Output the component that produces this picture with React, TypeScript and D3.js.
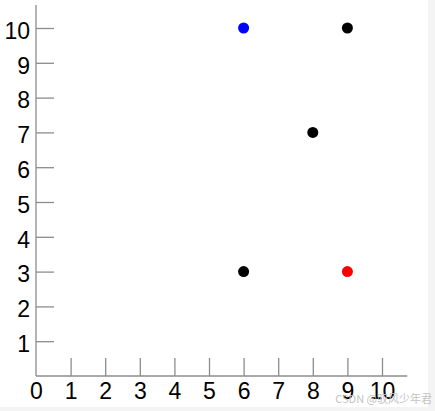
import React, { useRef, useEffect } from 'react';
import * as d3 from 'd3';

const xValues = [6, 9, 8, 6, 9];
const yValues = [10, 10, 7, 3, 3];
const pointColors = ['#0000ff', '#000000', '#000000', '#000000', '#ff0000'];
const xTicks = [0, 1, 2, 3, 4, 5, 6, 7, 8, 9, 10];
const yTicks = [1, 2, 3, 4, 5, 6, 7, 8, 9, 10];

const W = 435;
const H = 411;

const App: React.FC = () => {
  const svgRef = useRef<SVGSVGElement>(null);

  useEffect(() => {
    if (!svgRef.current) return;
    const svg = d3.select(svgRef.current);
    svg.selectAll('*').remove();

    // page background with the light frame at right/bottom
    svg.append('rect').attr('width', W).attr('height', H).attr('fill', '#f4f4f4');
    svg.append('rect').attr('width', 428).attr('height', 407).attr('fill', '#ffffff');

    const x = d3.scaleLinear().domain([0, 10]).range([36, 382]);
    const y = d3.scaleLinear().domain([0, 10]).range([376, 28]);

    const axisColor = '#8c8c8c';
    const font = 'Liberation Sans, Arial, sans-serif';

    // x axis
    const gx = svg
      .append('g')
      .attr('transform', `translate(0, ${y(0)})`)
      .call(d3.axisBottom(x).tickValues(xTicks).tickSizeInner(-18).tickSizeOuter(0).tickPadding(7).tickFormat(d3.format('d')));
    gx.select('.domain').remove();
    gx.selectAll('.tick line')
      .attr('stroke', axisColor)
      .attr('stroke-width', 1.3)
      .filter((d: any) => d === 0)
      .remove();
    gx.selectAll('.tick text')
      .attr('fill', '#000')
      .style('font-family', font)
      .style('font-size', '23px');

    // y axis
    const gy = svg
      .append('g')
      .attr('transform', `translate(${x(0)}, 0)`)
      .call(d3.axisLeft(y).tickValues(yTicks).tickSizeInner(-18).tickSizeOuter(0).tickPadding(6).tickFormat(d3.format('d')));
    gy.select('.domain').remove();
    gy.selectAll('.tick line').attr('stroke', axisColor).attr('stroke-width', 1.3);
    gy.selectAll('.tick text')
      .attr('fill', '#000')
      .attr('dy', '0.45em')
      .style('font-family', font)
      .style('font-size', '23px');

    // axis lines
    svg
      .append('line')
      .attr('x1', x(0))
      .attr('x2', x(10.73))
      .attr('y1', y(0))
      .attr('y2', y(0))
      .attr('stroke', axisColor)
      .attr('stroke-width', 1.3);
    svg
      .append('line')
      .attr('x1', x(0))
      .attr('x2', x(0))
      .attr('y1', y(0))
      .attr('y2', y(10.66))
      .attr('stroke', axisColor)
      .attr('stroke-width', 1.3);

    // points
    svg
      .selectAll('circle.pt')
      .data(xValues.map((v, i) => ({ x: v, y: yValues[i], c: pointColors[i] })))
      .enter()
      .append('circle')
      .attr('class', 'pt')
      .attr('cx', (d) => x(d.x))
      .attr('cy', (d) => y(d.y))
      .attr('r', 5.5)
      .attr('fill', (d) => d.c);

    // watermark
    svg
      .append('text')
      .attr('x', 432)
      .attr('y', 403)
      .attr('text-anchor', 'end')
      .attr('fill', '#c4c4c4')
      .style('font-family', 'Noto Sans CJK SC, sans-serif')
      .style('font-size', '11px')
      .text('CSDN @驭风少年君');
  }, []);

  return (
    <svg
      ref={svgRef}
      width={W}
      height={H}
      style={{ position: 'absolute', left: 0, top: 0, display: 'block' }}
    />
  );
};

export default App;
